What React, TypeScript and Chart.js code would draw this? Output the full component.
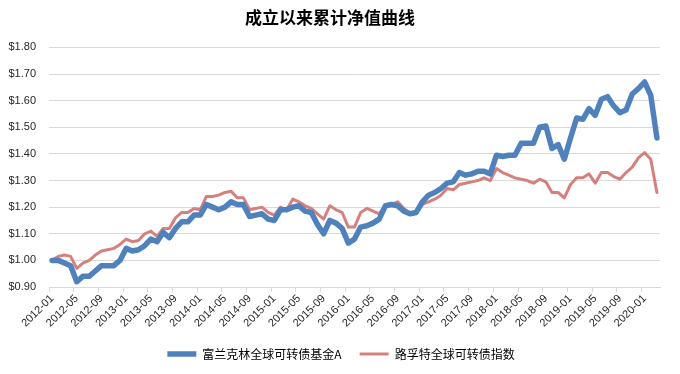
import React, { useEffect, useRef } from "react";
import { Chart, registerables } from "chart.js";

Chart.register(...registerables);

const TITLE = "成立以来累计净值曲线";
const SERIES_A_NAME = "富兰克林全球可转债基金A";
const SERIES_B_NAME = "路孚特全球可转债指数";

// Monthly categories 2012-01 .. 2020-03
const START_YEAR = 2012;
const MONTH_COUNT = 99;
const months: string[] = [];
for (let i = 0; i < MONTH_COUNT; i++) {
  const y = START_YEAR + Math.floor(i / 12);
  const m = (i % 12) + 1;
  months.push(`${y}-${m < 10 ? "0" + m : m}`);
}

const fundA: number[] = [
  1.0, 1.0, 0.99, 0.98, 0.92, 0.94, 0.94, 0.96, 0.98, 0.98, 0.98, 1.0,
  1.045, 1.035, 1.04, 1.055, 1.08, 1.07, 1.105, 1.085, 1.12, 1.145, 1.145, 1.17,
  1.17, 1.21, 1.2, 1.19, 1.2, 1.22, 1.21, 1.21, 1.165, 1.17, 1.175, 1.155,
  1.15, 1.19, 1.19, 1.2, 1.205, 1.185, 1.18, 1.135, 1.1, 1.15, 1.14, 1.12,
  1.065, 1.08, 1.125, 1.13, 1.14, 1.155, 1.205, 1.21, 1.205, 1.185, 1.175, 1.18,
  1.22, 1.245, 1.255, 1.27, 1.29, 1.295, 1.33, 1.32, 1.325, 1.335, 1.335, 1.325,
  1.395, 1.39, 1.395, 1.395, 1.44, 1.44, 1.44, 1.5, 1.505, 1.42, 1.435, 1.38,
  1.46, 1.535, 1.53, 1.57, 1.545, 1.605, 1.615, 1.58, 1.555, 1.565, 1.625, 1.645,
  1.67, 1.62, 1.46,
];

const indexB: number[] = [
  1.0, 1.015, 1.02, 1.015, 0.97, 0.99, 1.0, 1.02, 1.035, 1.04, 1.045, 1.06,
  1.08, 1.07, 1.075, 1.1, 1.11, 1.09, 1.12, 1.12, 1.16, 1.18, 1.18, 1.195,
  1.19, 1.24, 1.24, 1.245, 1.255, 1.26, 1.235, 1.235, 1.19, 1.195, 1.2, 1.18,
  1.17, 1.2, 1.19, 1.23, 1.22, 1.205, 1.195, 1.175, 1.155, 1.205, 1.19, 1.18,
  1.125, 1.125, 1.18, 1.195, 1.185, 1.175, 1.205, 1.21, 1.22, 1.195, 1.175, 1.18,
  1.21, 1.22, 1.23, 1.245, 1.27, 1.265, 1.285, 1.29, 1.295, 1.3, 1.31, 1.3,
  1.345, 1.33, 1.32, 1.31, 1.305, 1.3, 1.29, 1.305, 1.295, 1.255, 1.255, 1.235,
  1.285, 1.31, 1.31, 1.325, 1.29, 1.33, 1.33, 1.315, 1.305, 1.33, 1.35, 1.385,
  1.405, 1.38, 1.255,
];

const Y_MIN = 0.9;
const Y_MAX = 1.8;
const Y_STEP = 0.1;
const LABEL_EVERY = 4;

const GRID = "#d9d9d9";
const TEXT = "#262626";

const legendShift = {
  id: "legendShift",
  afterLayout(chart: any) {
    if (chart.legend) {
      chart.legend.right += 22;
      chart.legend.width += 22;
    }
  },
};

export default function App() {
  const ref = useRef<HTMLCanvasElement | null>(null);

  useEffect(() => {
    document.body.style.margin = "0";
    if (!ref.current) return;
    const chart = new Chart(ref.current, {
      type: "line",
      data: {
        labels: months,
        datasets: [
          {
            label: SERIES_A_NAME,
            data: fundA,
            borderColor: "#4F81BD",
            backgroundColor: "#4F81BD",
            borderWidth: 5.5,
            pointRadius: 0,
            tension: 0,
            borderJoinStyle: "round",
            borderCapStyle: "round",
          },
          {
            label: SERIES_B_NAME,
            data: indexB,
            borderColor: "#D6807E",
            backgroundColor: "#D6807E",
            borderWidth: 3,
            pointRadius: 0,
            tension: 0,
            borderJoinStyle: "round",
            borderCapStyle: "round",
          },
        ],
      },
      plugins: [legendShift],
      options: {
        animation: false,
        responsive: false,
        devicePixelRatio: 1,
        layout: { padding: { left: 0, right: 20, top: 0, bottom: 4 } },
        plugins: {
          tooltip: { enabled: false },
          title: {
            display: true,
            text: TITLE,
            color: "#000",
            font: { family: "'Noto Sans CJK SC'", size: 17, weight: "bold" },
            padding: { top: 7, bottom: 20 },
          },
          legend: {
            position: "bottom",
            labels: {
              usePointStyle: true,
              pointStyle: "line",
              pointStyleWidth: 29,
              boxHeight: 12,
              padding: 18,
              color: "#000",
              font: { family: "'Noto Sans CJK SC'", size: 12 },
            },
          },
        },
        scales: {
          x: {
            offset: true,
            grid: {
              offset: true,
              drawOnChartArea: false,
              drawTicks: true,
              tickLength: 5,
              color: (ctx: any) => (ctx.index % LABEL_EVERY === 0 ? GRID : "rgba(0,0,0,0)"),
            },
            border: { display: true, color: GRID, width: 1 },
            ticks: {
              autoSkip: false,
              maxRotation: 45,
              minRotation: 45,
              padding: 0,
              color: TEXT,
              font: { family: "'Liberation Sans'", size: 11 },
              callback: (_v: any, i: number) => (i % LABEL_EVERY === 0 ? months[i] : ""),
            },
            afterFit: (s: any) => {
              s.height = 43;
            },
          },
          y: {
            min: Y_MIN,
            max: Y_MAX,
            grid: { color: GRID, drawTicks: false },
            border: { display: false },
            ticks: {
              stepSize: Y_STEP,
              padding: 13,
              color: TEXT,
              font: { family: "'Liberation Sans'", size: 11 },
              callback: (v: any) => "$" + Number(v).toFixed(2),
            },
            afterFit: (s: any) => {
              s.width = 49;
            },
          },
        },
      },
    });
    return () => chart.destroy();
  }, []);

  return (
    <div style={{ width: 680, height: 374 }}>
      <canvas ref={ref} width={680} height={374} style={{ display: "block" }} />
    </div>
  );
}
